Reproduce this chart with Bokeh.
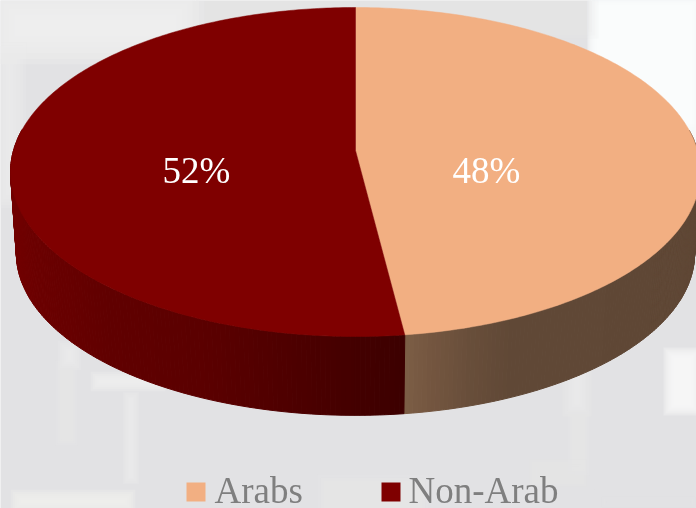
import numpy as np
from bokeh.embed import file_html
from bokeh.resources import INLINE
from bokeh.plotting import figure
from bokeh.models import Range1d
from bokeh.core.properties import value

# data
categories = ["Arabs", "Non-Arab"]
shares = [48, 52]
labels = ["48%", "52%"]
top_colors = ["#f2af82", "#7f0000"]

# side-wall shading stops (pixel x -> colour)
side_stops = [
    ([404, 430, 470, 510, 700], [(124, 94, 70), (116, 86, 64), (104, 78, 58), (96, 72, 54), (95, 71, 53)]),
    ([0, 30, 110, 210, 300, 404], [(116, 0, 0), (108, 0, 0), (96, 0, 0), (90, 0, 0), (76, 0, 0), (60, 0, 0)]),
]

# layout constants
W, H = 696, 508
CX, TOP_Y, BOT_Y = 355.0, 150.0, 232.0
A, B, K, S = 342.0, 161.7, 0.1307, 0.983
LABEL_X = [486, 196]
LABEL_Y = 170
SW_X = [186, 381]
TXT_X = [214, 408]
SW_Y = (482, 501)
TXT_MID = 490
FONT = value("Liberation Serif")

# soft background blobs: (x0, x1, y0, y1, colour, alpha, blur)
bg = [
    (0, 190, 0, 50, "#f2f2f3", 0.8, 14),
    (0, 18, 50, 200, "#eff0f1", 0.7, 8),
    (592, 696, 0, 140, "#fbfcfd", 1.0, 5),
    (600, 696, 130, 175, "#f7f8f9", 0.9, 6),
    (200, 590, 0, 30, "#eaeaea", 0.6, 8),
    (62, 76, 345, 365, "#f0f0f0", 0.7, 5),
    (60, 72, 365, 440, "#e9e9e9", 0.5, 5),
    (95, 160, 376, 386, "#f2f2f1", 0.8, 5),
    (126, 135, 395, 480, "#eeeeee", 0.7, 4),
    (15, 130, 494, 508, "#f1f1f0", 0.8, 5),
    (568, 585, 358, 410, "#efefef", 0.6, 6),
    (668, 696, 352, 410, "#f8f8f9", 0.9, 5),
    (572, 584, 415, 470, "#e9e9e9", 0.5, 5),
    (535, 580, 465, 480, "#eaeaea", 0.6, 6),
    (325, 420, 482, 508, "#e9e9e9", 0.5, 8),
    (600, 696, 495, 508, "#e9e9e9", 0.4, 6),
]


def project(theta, y0, scale):
    """Clockwise angle from 12 o'clock on the disc -> perspective pixel position."""
    dx, dy = np.sin(theta), np.cos(theta)
    w = 1 + K * dy
    return CX + scale * A * dx / w, y0 - scale * B * dy / w


def hex_at(x, stops):
    xs, cols = stops
    c = [int(round(np.interp(x, xs, [v[i] for v in cols]))) for i in range(3)]
    return "#%02x%02x%02x" % tuple(c)


fractions = np.cumsum([0] + shares) / sum(shares) * 2 * np.pi

p = figure(width=W, height=H, x_range=Range1d(0, W), y_range=Range1d(H, 0),
           toolbar_location=None, output_backend="svg", min_border=0,
           outline_line_color=None, background_fill_color="#e2e2e4",
           border_fill_color=None, x_axis_type=None, y_axis_type=None)
p.grid.visible = False
p.styles = {"position": "fixed", "left": "0px", "top": "0px"}

# each blob is a stack of growing, faint rectangles, which blurs its edges
layers = 6
l, r, t, b, cc, aa = [], [], [], [], [], []
for (x0, x1, y0, y1, c, a, blur) in bg:
    for k in range(layers):
        g = blur * (k / (layers - 1) - 0.5) * 2
        l.append(x0 - g); r.append(x1 + g); t.append(y0 - g); b.append(y1 + g)
        cc.append(c); aa.append(1 - (1 - a) ** (1 / layers) if a < 1 else 0.45)
p.quad(left=l, right=r, top=t, bottom=b, fill_color=cc, fill_alpha=aa, line_color=None)

# side wall, split in narrow vertical strips for the shading
for i in range(len(shares)):
    th = np.linspace(fractions[i], fractions[i + 1], 260)
    tx, ty = project(th, TOP_Y, 1.0)
    bx, by = project(th, BOT_Y, S)
    xs, ys, cols = [], [], []
    for j in range(len(th) - 1):
        if np.cos(th[j]) > 0.12 and np.cos(th[j + 1]) > 0.12:
            continue
        xs.append([tx[j], tx[j + 1], bx[j + 1], bx[j]])
        ys.append([ty[j], ty[j + 1], by[j + 1], by[j]])
        cols.append(hex_at((tx[j] + tx[j + 1]) / 2, side_stops[i]))
    p.patches(xs, ys, fill_color=cols, line_color=cols, line_width=1)

# top surface
for i in range(len(shares)):
    th = np.linspace(fractions[i], fractions[i + 1], 240)
    ex, ey = project(th, TOP_Y, 1.0)
    p.patch(np.r_[CX, ex], np.r_[TOP_Y, ey], fill_color=top_colors[i],
            line_color=top_colors[i], line_width=0.5)

p.text(x=LABEL_X, y=[LABEL_Y] * 2, text=labels, text_color="#ffffff",
       text_font=FONT, text_font_size="37px", text_align="center", text_baseline="middle")

p.quad(left=SW_X, right=[x + 19 for x in SW_X], top=[SW_Y[0]] * 2, bottom=[SW_Y[1]] * 2,
       fill_color=top_colors, line_color=None)
p.text(x=TXT_X, y=[TXT_MID] * 2, text=categories, text_color="#7f7f7f",
       text_font=FONT, text_font_size="37px", text_align="left", text_baseline="middle")

open("out.html", "w").write(file_html(p, INLINE))
